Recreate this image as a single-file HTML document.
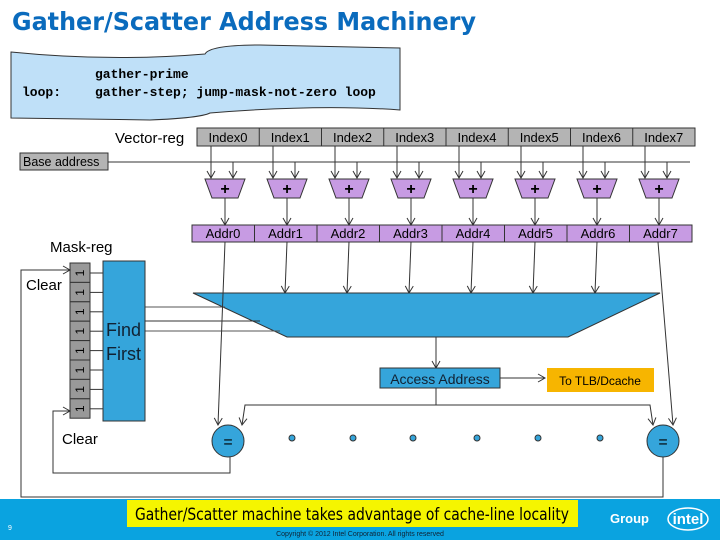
<!DOCTYPE html>
<html><head><style>
body{margin:0;width:720px;height:540px;position:relative;background:#fff;font-family:"Liberation Sans",sans-serif;overflow:hidden}
</style></head><body>
<svg width="720" height="540" style="position:absolute;left:0;top:0" font-family="Liberation Sans, sans-serif">
<defs><marker id="a" markerWidth="10" markerHeight="10" refX="8" refY="5" orient="auto" markerUnits="userSpaceOnUse"><path d="M1,1 L8,5 L1,9" fill="none" stroke="#333" stroke-width="1"/></marker></defs>
<text x="12" y="30" font-size="25" font-weight="bold" fill="#0a6bbd" font-family="DejaVu Sans, sans-serif" textLength="464" lengthAdjust="spacingAndGlyphs">Gather/Scatter Address Machinery</text>
<path d="M11,52 Q110,62 205,54 Q210,45 260,45 L400,48 L400,110 Q320,104 210,113 Q200,118 150,120 L11,118 Z" fill="#bfe0f8" stroke="#333" stroke-width="1"/>
<text x="95" y="78" font-size="13" font-weight="bold" font-family="Liberation Mono, monospace">gather-prime</text>
<text x="22" y="96" font-size="13" font-weight="bold" font-family="Liberation Mono, monospace">loop:</text>
<text x="95" y="96" font-size="13" font-weight="bold" font-family="Liberation Mono, monospace">gather-step; jump-mask-not-zero loop</text>
<text x="115" y="143" font-size="15">Vector-reg</text>
<g font-size="13" text-anchor="middle" stroke="#333">
<rect x="197" y="128" width="498" height="18" fill="#b4b4b4"/>
<rect x="20" y="153" width="88" height="17" fill="#b4b4b4"/>
<rect x="192" y="225" width="500" height="17" fill="#c79be3"/>
</g>
<text x="23" y="166" font-size="12.5">Base address</text>
<g id="cols"></g>
<line x1="108" y1="162" x2="690" y2="162" stroke="#333"/>
<path d="M193,293 L660,293 L568,337 L287,337 Z" fill="#35a5db" stroke="#333"/>
<line x1="145" y1="307" x2="225" y2="307" stroke="#555"/>
<line x1="145" y1="321" x2="260" y2="321" stroke="#333"/>
<line x1="145" y1="331" x2="280" y2="331" stroke="#555"/>
<text x="50" y="252" font-size="15">Mask-reg</text>
<text x="26" y="290" font-size="15">Clear</text>
<text x="62" y="444" font-size="15">Clear</text>
<rect x="103" y="261" width="42" height="160" fill="#35a5db" stroke="#333"/>
<text x="106" y="336" font-size="18" fill="#123">Find</text>
<text x="106" y="360" font-size="18" fill="#123">First</text>
<g id="mask"></g>
<line x1="436" y1="337" x2="436" y2="368" stroke="#333" marker-end="url(#a)"/>
<rect x="380" y="368" width="120" height="20" fill="#35a5db" stroke="#333"/>
<text x="440" y="384" font-size="14" text-anchor="middle" fill="#123">Access Address</text>
<line x1="500" y1="378" x2="545" y2="378" stroke="#333" marker-end="url(#a)"/>
<rect x="547" y="368" width="107" height="24" fill="#f7b500"/>
<text x="600" y="385" font-size="12" text-anchor="middle">To  TLB/Dcache</text>
<polyline points="436,388 436,405 245,405 242,425" fill="none" stroke="#333" marker-end="url(#a)"/>
<polyline points="436,405 650,405 653,425" fill="none" stroke="#333" marker-end="url(#a)"/>
<polyline points="225,242 218,425" fill="none" stroke="#333" marker-end="url(#a)"/>
<polyline points="658,242 673,425" fill="none" stroke="#333" marker-end="url(#a)"/>
<circle cx="228" cy="441" r="16" fill="#35a5db" stroke="#333"/>
<circle cx="663" cy="441" r="16" fill="#35a5db" stroke="#333"/>
<text x="228" y="447" font-size="16" text-anchor="middle">=</text>
<text x="663" y="447" font-size="16" text-anchor="middle">=</text>
<g fill="#35a5db" stroke="#333"><circle cx="292" cy="438" r="3"/><circle cx="353" cy="438" r="3"/><circle cx="413" cy="438" r="3"/><circle cx="477" cy="438" r="3"/><circle cx="538" cy="438" r="3"/><circle cx="600" cy="438" r="3"/></g>
<polyline points="230,457 230,473 53,473 53,411 70,411" fill="none" stroke="#333" marker-end="url(#a)"/>
<polyline points="663,457 663,497 21,497 21,270 70,270" fill="none" stroke="#333" marker-end="url(#a)"/>
<rect x="0" y="499" width="720" height="41" fill="#0aa3e0"/>
<rect x="127" y="500" width="451" height="27" fill="#f5f500"/>
<text x="135" y="520" font-size="17" font-family="DejaVu Sans, sans-serif" textLength="434" lengthAdjust="spacingAndGlyphs">Gather/Scatter machine takes advantage of cache-line locality</text>
<text x="610" y="523" font-size="13" font-weight="bold" fill="#fff">Group</text>
<text x="688" y="524" font-size="15" font-weight="bold" fill="#fff" text-anchor="middle">intel</text>
<ellipse cx="688" cy="519" rx="20" ry="11" fill="none" stroke="#fff" stroke-width="1.5"/>
<text x="8" y="530" font-size="7" fill="#fff">9</text>
<text x="360" y="536" font-size="7" text-anchor="middle" fill="#123">Copyright © 2012 Intel Corporation. All rights reserved</text>
</svg>
<script>
var s='http://www.w3.org/2000/svg',g=document.getElementById('cols'),m=document.getElementById('mask');
function el(p,t,a,txt){var e=document.createElementNS(s,t);for(var k in a)e.setAttribute(k,a[k]);if(txt)e.textContent=txt;p.appendChild(e);return e;}
for(var i=0;i<8;i++){
var ix=197+i*62.25,cx=ix+31;
if(i>0)el(g,'line',{x1:ix,y1:128,x2:ix,y2:146,stroke:'#333'});
el(g,'text',{x:cx,y:142,'font-size':13,'text-anchor':'middle'},'Index'+i);
var ac=225+i*62;
el(g,'line',{x1:ac-14,y1:146,x2:ac-14,y2:178,stroke:'#333','marker-end':'url(#a)'});
el(g,'line',{x1:ac+8,y1:162,x2:ac+8,y2:178,stroke:'#333','marker-end':'url(#a)'});
el(g,'path',{d:'M'+(ac-20)+',179 L'+(ac+20)+',179 L'+(ac+13)+',198 L'+(ac-13)+',198 Z',fill:'#c79be3',stroke:'#333'});
el(g,'text',{x:ac,y:194,'font-size':16,'font-weight':'bold','text-anchor':'middle'},'+');
el(g,'line',{x1:ac,y1:198,x2:ac,y2:225,stroke:'#333','marker-end':'url(#a)'});
var ax=192+i*62.5;
if(i>0)el(g,'line',{x1:ax,y1:225,x2:ax,y2:242,stroke:'#333'});
el(g,'text',{x:ax+31,y:238,'font-size':13,'text-anchor':'middle'},'Addr'+i);
if(i>0&&i<7)el(g,'line',{x1:ac,y1:242,x2:ac-2,y2:293,stroke:'#333','marker-end':'url(#a)'});
var my=263+i*19.4;
el(m,'rect',{x:70,y:my,width:20,height:19.4,fill:'#999',stroke:'#333'});
el(m,'text',{x:0,y:0,'font-size':12,transform:'translate(84,'+(my+10)+') rotate(-90)','text-anchor':'middle'},'1');
el(m,'line',{x1:90,y1:my+10,x2:103,y2:my+10,stroke:'#333'});
}
</script>
</body></html>
